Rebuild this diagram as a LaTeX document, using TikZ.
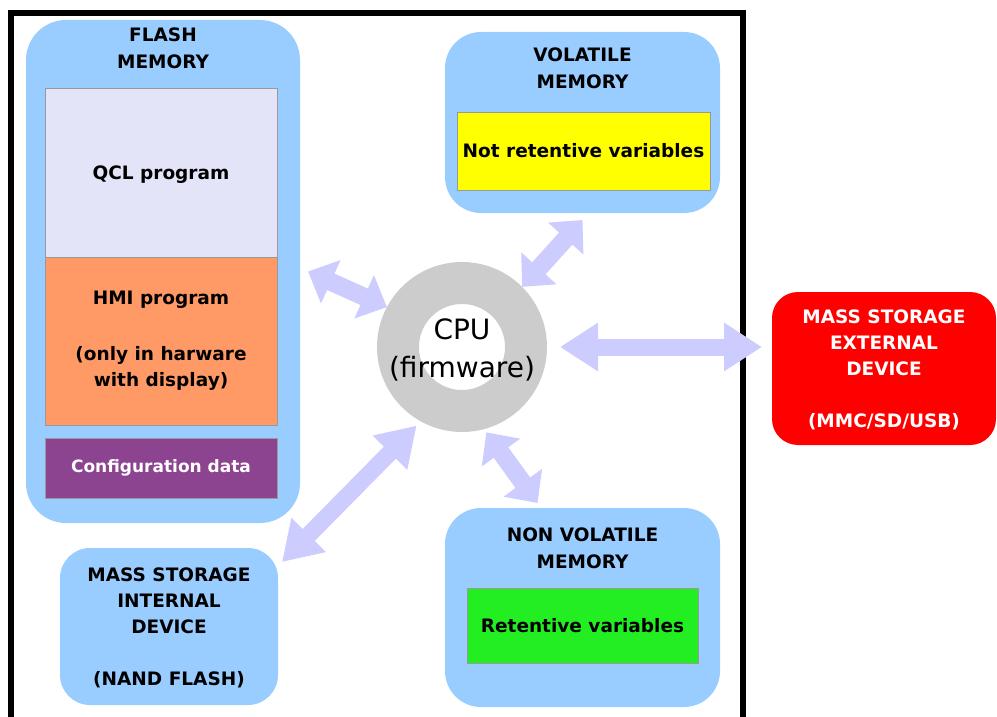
\documentclass[tikz,border=0pt]{standalone}
\usepackage{fontspec}
\setmainfont{DejaVu Sans}
\usepackage{xcolor}
\usetikzlibrary{arrows.meta,positioning}

\definecolor{boxblue}{HTML}{99CCFF}
\definecolor{qclfill}{HTML}{E4E4F8}
\definecolor{hmifill}{HTML}{FF9966}
\definecolor{cfgfill}{HTML}{8C4491}
\definecolor{cpugray}{HTML}{CCCCCC}
\definecolor{linkfill}{HTML}{CCCCFF}
\definecolor{varyellow}{HTML}{FFFF00}
\definecolor{vargreen}{HTML}{22EE22}
\definecolor{extred}{HTML}{FF0000}

\begin{document}
\begin{tikzpicture}[x=1pt, y=-1pt,
    mem/.style={rectangle, fill=boxblue, rounded corners=#1, inner sep=0pt, outer sep=0pt},
    mem/.default=36pt,
    lbl/.style={font=\fontsize{18.5}{26}\selectfont\bfseries, align=center, inner sep=0pt},
    part/.style={rectangle, draw=black!40, line width=0.8pt, inner sep=0pt, outer sep=0pt, lbl},
    link/.style={draw=linkfill, line width=17pt, {Triangle[length=38pt,width=46pt]}-{Triangle[length=38pt,width=46pt]}},
    short link/.style={draw=linkfill, line width=18pt, {Triangle[length=25pt,width=46pt]}-{Triangle[length=25pt,width=46pt]}}
]
\useasboundingbox (0,0) rectangle (997,717);
\draw[line width=6pt] (11,717) -- (11,13) -- (743,13) -- (743,717);

% flash memory
\node[mem=40pt, minimum width=274pt, minimum height=503pt] (flash) at (163,271.5) {};
\node[lbl, font=\fontsize{18.5}{27}\selectfont\bfseries, below=8pt of flash.north] (flashttl) {FLASH\\MEMORY};
\node[part, fill=qclfill, text depth=0pt, minimum width=232pt, minimum height=169pt] (qcl) at (161,172.5) {QCL program};
\node[part, fill=hmifill, minimum width=232pt, minimum height=168pt, below=0pt of qcl] (hmi) {HMI program\\[30pt](only in harware\\with display)};
\node[part, fill=cfgfill, text=white, font=\fontsize{17}{20}\selectfont\bfseries, minimum width=232pt, minimum height=60pt, below=13pt of hmi] (cfg) {Configuration data};

% internal storage
\node[mem=30pt, lbl, text depth=0pt, minimum width=218pt, minimum height=157pt] (intl) at (169,626.5) {MASS STORAGE\\INTERNAL\\DEVICE\\[26pt](NAND FLASH)};

% volatile / non volatile
\node[mem, minimum width=275pt, minimum height=181pt] (vol) at (582.5,122.5) {};
\node[lbl, font=\fontsize{18.5}{27}\selectfont\bfseries, below=16pt of vol.north] (volttl) {VOLATILE\\MEMORY};
\node[part, fill=varyellow, minimum width=253pt, minimum height=78pt] (nrv) at (583.5,151) {Not retentive variables};

\node[mem, minimum width=275pt, minimum height=199pt] (nonvol) at (582.5,607.5) {};
\node[lbl, font=\fontsize{18.5}{27}\selectfont\bfseries, below=20pt of nonvol.north] (nonvolttl) {NON VOLATILE\\MEMORY};
\node[part, fill=vargreen, minimum width=231pt, minimum height=75pt] (rv) at (582.5,625.5) {Retentive variables};

% external storage
\node[mem=26pt, lbl, text depth=0pt, fill=extred, text=white, minimum width=224pt, minimum height=153pt] (ext) at (884,368.5) {MASS STORAGE\\EXTERNAL\\DEVICE\\[26pt](MMC/SD/USB)};

% cpu
\node[circle, draw=cpugray, line width=42pt, minimum size=128pt, inner sep=0pt] (cpu) at (462,347) {};
\node[font=\fontsize{28}{38}\selectfont, align=center, inner sep=0pt] (cpulbl) at (462,350) {CPU\\(firmware)};

% links
\draw[short link] ([xshift=8pt]flash.east) -- (cpu.152);
\draw[short link] (cpu.45) -- ([yshift=-7pt]vol.south);
\draw[link, shorten <=13pt, shorten >=10pt] (cpu.east) -- (ext.west |- cpu.east);
\draw[link, shorten >=6pt] ([xshift=4pt,yshift=-14pt]intl.north east) -- (cpu.241);
\draw[short link, shorten <=4pt] (cpu.285) -- ([xshift=-45pt,yshift=5pt]nonvol.north);
\end{tikzpicture}
\end{document}
